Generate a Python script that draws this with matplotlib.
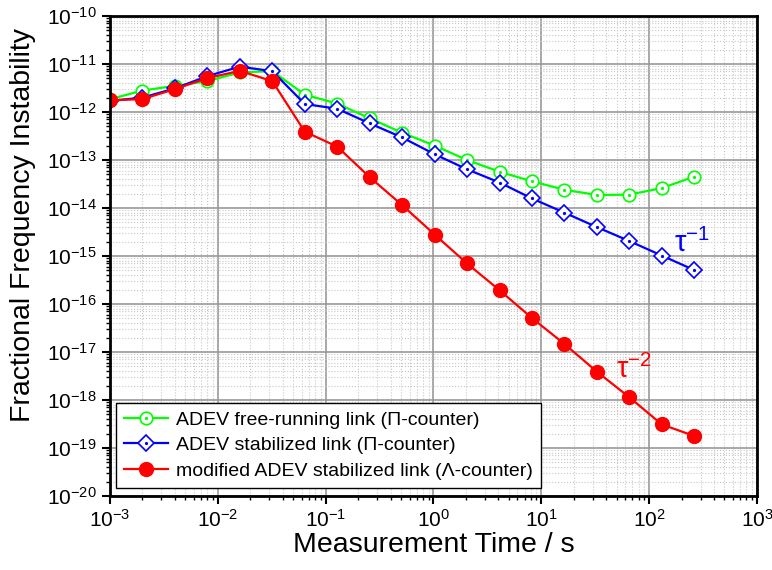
import numpy as np
import matplotlib
matplotlib.use("Agg")
import matplotlib.pyplot as plt

plt.rcParams['font.family'] = ['Liberation Sans', 'DejaVu Sans']
plt.rcParams['mathtext.fontset'] = 'custom'
plt.rcParams['mathtext.rm'] = 'Liberation Sans'
plt.rcParams['mathtext.it'] = 'Liberation Sans'
plt.rcParams['mathtext.bf'] = 'Liberation Sans:bold'

# averaging times (s)
tau = [1e-3, 2e-3, 4e-3, 8e-3, 1.6e-2, 3.2e-2, 6.4e-2, 0.128, 0.256, 0.512, 1.024,
       2.048, 4.096, 8.192, 16.384, 32.768, 65.536, 131.072, 262.144]

adev_free = [1.85e-12, 2.8e-12, 3.5e-12, 4.4e-12, 6.7e-12, 7.1e-12, 2.3e-12, 1.5e-12,
             7.4e-13, 3.7e-13, 2.0e-13, 1.0e-13, 5.7e-14, 3.6e-14, 2.4e-14, 1.87e-14,
             1.9e-14, 2.6e-14, 4.5e-14]
adev_stab = [1.7e-12, 2.0e-12, 3.1e-12, 5.6e-12, 8.8e-12, 7.1e-12, 1.47e-12, 1.17e-12,
             5.8e-13, 2.95e-13, 1.32e-13, 6.4e-14, 3.4e-14, 1.58e-14, 8.0e-15, 4.0e-15,
             2.05e-15, 1.02e-15, 5.1e-16]
madev_stab = [1.75e-12, 1.86e-12, 3.0e-12, 5.1e-12, 7.2e-12, 4.4e-12, 3.9e-13, 1.9e-13,
              4.4e-14, 1.15e-14, 2.8e-15, 7.0e-16, 1.94e-16, 5.1e-17, 1.47e-17, 3.9e-18,
              1.14e-18, 3.1e-19, 1.78e-19]

labels = ['ADEV free-running link (Π-counter)',
          'ADEV stabilized link (Π-counter)',
          'modified ADEV stabilized link (Λ-counter)']

fig = plt.figure(figsize=(7.72, 5.70), dpi=100)
ax = fig.add_axes([0.1425, 0.1298, 0.838, 0.8421])

l1, = ax.plot(tau, adev_free, color='#00ff00', lw=1.6, marker='o', ms=9,
              mfc='white', mec='#00ff00', mew=1.2)
d1, = ax.plot(tau, adev_free, ls='none', marker='o', ms=1.3, color='#00ff00')
l2, = ax.plot(tau, adev_stab, color='#0000ff', lw=1.6, marker='D', ms=8,
              mfc='white', mec='#0000ff', mew=1.2)
d2, = ax.plot(tau, adev_stab, ls='none', marker='o', ms=1.3, color='#0000ff')
l3, = ax.plot(tau, madev_stab, color='#ff0000', lw=1.6, marker='o', ms=10,
              mfc='#ff0000', mec='#ff0000')

ax.set_xscale('log')
ax.set_yscale('log')
ax.set_xlim(1e-3, 1e3)
ax.set_ylim(1e-20, 1e-10)
ax.yaxis.set_major_locator(matplotlib.ticker.LogLocator(base=10, numticks=20))
ax.yaxis.set_minor_locator(matplotlib.ticker.LogLocator(base=10, subs=np.arange(2, 10), numticks=20))
ax.yaxis.set_minor_formatter(matplotlib.ticker.NullFormatter())

ax.grid(which='major', color='#999999', lw=1.2, ls='-')
ax.grid(which='minor', color='#c8c8c8', lw=0.8, ls=':')
ax.set_axisbelow(True)

for s in ax.spines.values():
    s.set_linewidth(2)
ax.tick_params(which='major', direction='out', length=6, width=1.5, labelsize=15)
ax.tick_params(which='minor', direction='out', length=3, width=1)

ax.set_xlabel('Measurement Time / s', fontsize=20.5, labelpad=1)
ax.set_ylabel('Fractional Frequency Instability', fontsize=20.5)
ax.yaxis.set_label_coords(-0.115, 0.565)

ax.text(170, 1.2e-15, r'$\mathrm{\tau^{-1}}$', color='#0000ff', fontsize=21,
        ha='left', va='baseline')
ax.text(49, 2.9e-18, r'$\mathrm{\tau^{-2}}$', color='#ff0000', fontsize=21,
        ha='left', va='baseline')

leg = ax.legend([(l1, d1), (l2, d2), l3], labels, loc='lower left',
                bbox_to_anchor=(0.009, 0.017), borderaxespad=0, fontsize=14,
                frameon=True, fancybox=False, edgecolor='black', framealpha=1,
                handlelength=2.3, handletextpad=0.4, borderpad=0.4, labelspacing=0.42)
leg.get_frame().set_linewidth(1)

fig.savefig('out.png', dpi=100)
